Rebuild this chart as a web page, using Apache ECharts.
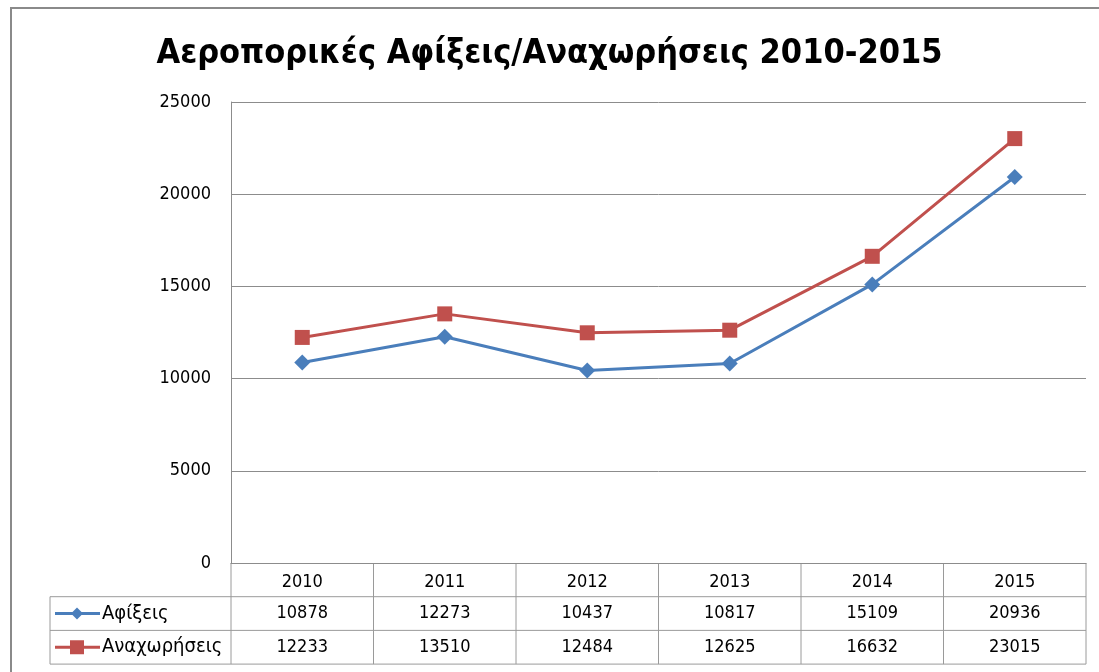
<!DOCTYPE html>
<html>
<head>
<meta charset="utf-8">
<script src="https://cdn.jsdelivr.net/npm/echarts@6/dist/echarts.min.js"></script>
<style>
  html, body { margin: 0; padding: 0; background: #fff; }
  #frame { position: absolute; left: 10px; top: 7px; width: 1120px; height: 700px; border: 2px solid #8a8a8a; box-sizing: border-box; }
  #chart { position: absolute; left: 0; top: 0; width: 1099px; height: 672px; }
</style>
</head>
<body>
<div id="frame"></div>
<div id="chart"></div>
<script>
const years = ['2010', '2011', '2012', '2013', '2014', '2015'];
const arrivals = [10878, 12273, 10437, 10817, 15109, 20936];
const departures = [12233, 13510, 12484, 12625, 16632, 23015];
const seriesNames = ['Αφίξεις', 'Αναχωρήσεις'];
const yTicks = [0, 5000, 10000, 15000, 20000, 25000];

const BLUE = '#4a7ebb';
const RED = '#c0504d';
const GRID_COLOR = '#8c8c8c';
const FONT = '"DejaVu Sans Condensed", "Liberation Sans", sans-serif';

const chart = echarts.init(document.getElementById('chart'));

const option = {
    animation: false,
    title: {
        text: 'Αεροπορικές Αφίξεις/Αναχωρήσεις 2010-2015',
        left: 'center',
        top: 32,
        textStyle: { fontFamily: FONT, fontSize: 34, fontWeight: 'bold', color: '#000' }
    },
    grid: { left: 231, right: 13, top: 102, bottom: 109 },
    xAxis: {
        type: 'category',
        data: years,
        boundaryGap: true,
        axisLine: { show: true, lineStyle: { color: GRID_COLOR, width: 1 } },
        axisTick: { show: false },
        axisLabel: { margin: 10, fontFamily: FONT, fontSize: 18, color: '#000' }
    },
    yAxis: {
        type: 'value',
        min: yTicks[0],
        max: yTicks[yTicks.length - 1],
        interval: 5000,
        axisLine: { show: true, lineStyle: { color: GRID_COLOR, width: 1 } },
        axisTick: { show: false },
        splitLine: { lineStyle: { color: GRID_COLOR, width: 1 } },
        axisLabel: {
            margin: 20, fontFamily: FONT, fontSize: 18, color: '#000',
            formatter: v => String(v)
        }
    },
    series: [
        {
            name: seriesNames[0],
            type: 'line',
            data: arrivals,
            symbol: 'diamond',
            symbolSize: 16,
            lineStyle: { color: BLUE, width: 3 },
            itemStyle: { color: BLUE }
        },
        {
            name: seriesNames[1],
            type: 'line',
            data: departures,
            symbol: 'rect',
            symbolSize: 15,
            lineStyle: { color: RED, width: 3 },
            itemStyle: { color: RED }
        }
    ]
};

chart.setOption(option);

// data table under the plot
function buildTable() {
    const x0 = chart.convertToPixel({ xAxisIndex: 0 }, 0);
    const x1 = chart.convertToPixel({ xAxisIndex: 0 }, 1);
    const colW = x1 - x0;
    const left = x0 - colW / 2;
    const right = left + colW * years.length;
    const yAxisBottom = chart.convertToPixel({ yAxisIndex: 0 }, 0);
    const rowH = 33.7;
    const r1 = yAxisBottom + rowH;
    const r2 = r1 + rowH;
    const r3 = r2 + rowH;
    const legendLeft = 50;
    const line = (x1, y1, x2, y2) => ({
        type: 'line', silent: true,
        shape: { x1, y1, x2, y2 },
        style: { stroke: '#9a9a9a', lineWidth: 1 }
    });
    const els = [];
    // horizontals
    [r1, r2, r3].forEach(y => els.push(line(legendLeft, y, right, y)));
    // verticals
    els.push(line(legendLeft, r1, legendLeft, r3));
    for (let i = 0; i <= years.length; i++) {
        const x = left + colW * i;
        els.push(line(x, yAxisBottom, x, r3));
    }
    // values
    [arrivals, departures].forEach((vals, row) => {
        const cy = (row === 0 ? r1 : r2) + rowH / 2;
        vals.forEach((v, i) => {
            els.push({
                type: 'text', silent: true,
                x: left + colW * (i + 0.5), y: cy,
                style: { text: String(v), fontFamily: FONT, fontSize: 18, fill: '#000', align: 'center', verticalAlign: 'middle' }
            });
        });
    });
    // legend keys
    const keys = [
        { color: BLUE, symbol: 'diamond' },
        { color: RED, symbol: 'rect' }
    ];
    keys.forEach((k, row) => {
        const cy = (row === 0 ? r1 : r2) + rowH / 2;
        els.push({
            type: 'line', silent: true,
            shape: { x1: legendLeft + 5, y1: cy, x2: legendLeft + 50, y2: cy },
            style: { stroke: k.color, lineWidth: 3 }
        });
        if (k.symbol === 'diamond') {
            els.push({
                type: 'polygon', silent: true,
                shape: { points: [[legendLeft + 27, cy - 6], [legendLeft + 33, cy], [legendLeft + 27, cy + 6], [legendLeft + 21, cy]] },
                style: { fill: k.color }
            });
        } else {
            els.push({
                type: 'rect', silent: true,
                shape: { x: legendLeft + 20, y: cy - 7, width: 14, height: 14 },
                style: { fill: k.color }
            });
        }
        els.push({
            type: 'text', silent: true,
            x: legendLeft + 52, y: cy,
            style: { text: seriesNames[row], fontFamily: FONT, fontSize: 20, fill: '#000', align: 'left', verticalAlign: 'middle' }
        });
    });
    chart.setOption({ graphic: els });
}

buildTable();
</script>
</body>
</html>
